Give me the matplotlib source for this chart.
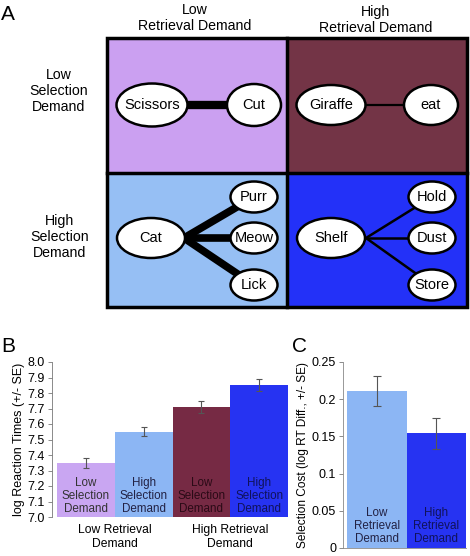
import matplotlib
matplotlib.use('Agg')
import matplotlib.pyplot as plt
from matplotlib.patches import Ellipse, Rectangle

plt.rcParams['font.family'] = ['Liberation Sans', 'DejaVu Sans']

# data
conditions = ['Low\nSelection\nDemand', 'High\nSelection\nDemand',
              'Low\nSelection\nDemand', 'High\nSelection\nDemand']
rt_means = [7.35, 7.55, 7.71, 7.85]
rt_se = [0.032, 0.03, 0.036, 0.04]
retrieval_groups = ['Low Retrieval\nDemand', 'High Retrieval\nDemand']
cost_labels = ['Low\nRetrieval\nDemand', 'High\nRetrieval\nDemand']
cost_means = [0.211, 0.154]
cost_se = [0.0205, 0.021]

bar_cols = ['#c9a6f2', '#8cb6f4', '#762a44', '#2633f2']
txt_cols = ['#333333', '#222244', '#2a0a16', '#10125a']
cell_cols = ['#cba0f1', '#733446', '#96bff4', '#2331f8']

W, H = 470, 556
fig = plt.figure(figsize=(W / 100, H / 100), dpi=100)

# ---------- panel A (drawn in pixel coords) ----------
axA = fig.add_axes([0, 0, 1, 1])
axA.set_xlim(0, W)
axA.set_ylim(H, 0)
axA.axis('off')

x0, xm, x1 = 107, 287, 467
y0, ym, y1 = 38, 173, 307
axA.add_patch(Rectangle((x0, y0), xm - x0, ym - y0, fc=cell_cols[0], ec='none'))
axA.add_patch(Rectangle((xm, y0), x1 - xm, ym - y0, fc=cell_cols[1], ec='none'))
axA.add_patch(Rectangle((x0, ym), xm - x0, y1 - ym, fc=cell_cols[2], ec='none'))
axA.add_patch(Rectangle((xm, ym), x1 - xm, y1 - ym, fc=cell_cols[3], ec='none'))
axA.add_patch(Rectangle((x0, y0), x1 - x0, y1 - y0, fc='none', ec='black', lw=2.5, zorder=5))
axA.plot([xm, xm], [y0, y1], color='black', lw=2.5, zorder=5)
axA.plot([x0, x1], [ym, ym], color='black', lw=2.5, zorder=5)

def node(x, y, w, h, label, fs=10.5):
    axA.add_patch(Ellipse((x, y), w, h, fc='white', ec='black', lw=1.8, zorder=3))
    axA.text(x, y, label, ha='center', va='center', fontsize=fs, zorder=4)

def link(a, b, lw):
    axA.plot([a[0], b[0]], [a[1], b[1]], color='black', lw=lw, zorder=2,
             solid_capstyle='butt')

link((160, 105), (250, 105), 6)
node(152, 105, 71, 43, 'Scissors')
node(254, 105, 54, 42, 'Cut')

link((340, 105), (425, 105), 1.6)
node(331, 105, 69, 40, 'Giraffe')
node(431, 105, 54, 40, 'eat')

for cy in (197, 238, 285):
    link((184, 238), (254, cy), 5.5)
node(151, 238, 68, 40, 'Cat')
node(254, 197, 47, 31, 'Purr')
node(254, 238, 47, 31, 'Meow')
node(254, 285, 47, 31, 'Lick')

for cy in (197, 238, 285):
    link((366, 238), (432, cy), 1.8)
node(331, 238, 68, 40, 'Shelf')
node(432, 197, 47, 31, 'Hold')
node(432, 238, 47, 31, 'Dust')
node(432, 285, 47, 31, 'Store')

axA.text(195, 18, 'Low\nRetrieval Demand', ha='center', va='center', fontsize=10.2)
axA.text(376, 20, 'High\nRetrieval Demand', ha='center', va='center', fontsize=10.2)
axA.text(59, 91, 'Low\nSelection\nDemand', ha='center', va='center', fontsize=10.2)
axA.text(60, 237, 'High\nSelection\nDemand', ha='center', va='center', fontsize=10.2)
axA.text(1, 15, 'A', ha='left', va='center', fontsize=15)
axA.text(1, 346, 'B', ha='left', va='center', fontsize=15)
axA.text(292, 346, 'C', ha='left', va='center', fontsize=15)

# ---------- panel B ----------
axB = fig.add_axes([52 / W, (H - 517) / H, 236 / W, 155 / H])
xs = range(len(rt_means))
axB.bar(xs, [m - 7.0 for m in rt_means], bottom=7.0, width=1.0, color=bar_cols)
axB.errorbar(xs, rt_means, yerr=rt_se, fmt='none', ecolor='#555555',
             elinewidth=0.8, capsize=2, capthick=0.8)
for i, lab in enumerate(conditions):
    axB.text(i, 7.135, lab, ha='center', va='center', fontsize=8.4,
             color=txt_cols[i], linespacing=1.15)
axB.set_ylim(7.0, 8.0)
axB.set_xlim(-0.59, 3.5)
axB.set_yticks([7.0 + 0.1 * k for k in range(11)])
axB.set_yticklabels(['%.1f' % (7.0 + 0.1 * k) for k in range(11)])
axB.set_xticks([0.5, 2.5])
axB.set_xticklabels(retrieval_groups, fontsize=8.7)
axB.tick_params(axis='x', length=0, pad=5)
axB.tick_params(axis='y', length=3, width=0.6, color='#777777', labelsize=9, pad=2)
for s in ['top', 'right', 'bottom']:
    axB.spines[s].set_visible(False)
axB.spines['left'].set_color('#777777')
axB.spines['left'].set_linewidth(0.6)
axB.set_ylabel('log Reaction Times (+/- SE)', fontsize=9, labelpad=2)

# ---------- panel C ----------
axC = fig.add_axes([343 / W, (H - 548) / H, 123 / W, 186 / H])
xc = range(len(cost_means))
axC.bar(xc, cost_means, width=1.0, color=[bar_cols[1], bar_cols[3]])
axC.errorbar(xc, cost_means, yerr=cost_se, fmt='none', ecolor='#555555',
             elinewidth=0.8, capsize=3, capthick=0.8)
for i, lab in enumerate(cost_labels):
    axC.text(i, 0.0296, lab, ha='center', va='center', fontsize=8.4,
             color=txt_cols[1] if i == 0 else txt_cols[3], linespacing=1.15)
axC.set_ylim(0, 0.25)
axC.set_xlim(-0.57, 1.5)
axC.set_yticks([0, 0.05, 0.1, 0.15, 0.2, 0.25])
axC.set_yticklabels(['0', '0.05', '0.1', '0.15', '0.2', '0.25'])
axC.set_xticks([])
axC.tick_params(axis='y', length=3, width=0.6, color='#777777', labelsize=9, pad=2)
for s in ['top', 'right']:
    axC.spines[s].set_visible(False)
for s in ['left', 'bottom']:
    axC.spines[s].set_color('#888888')
    axC.spines[s].set_linewidth(0.6)
axC.set_ylabel('Selection Cost (log RT Diff., +/- SE)', fontsize=8.6, labelpad=2)

fig.savefig('out.png', dpi=100)
